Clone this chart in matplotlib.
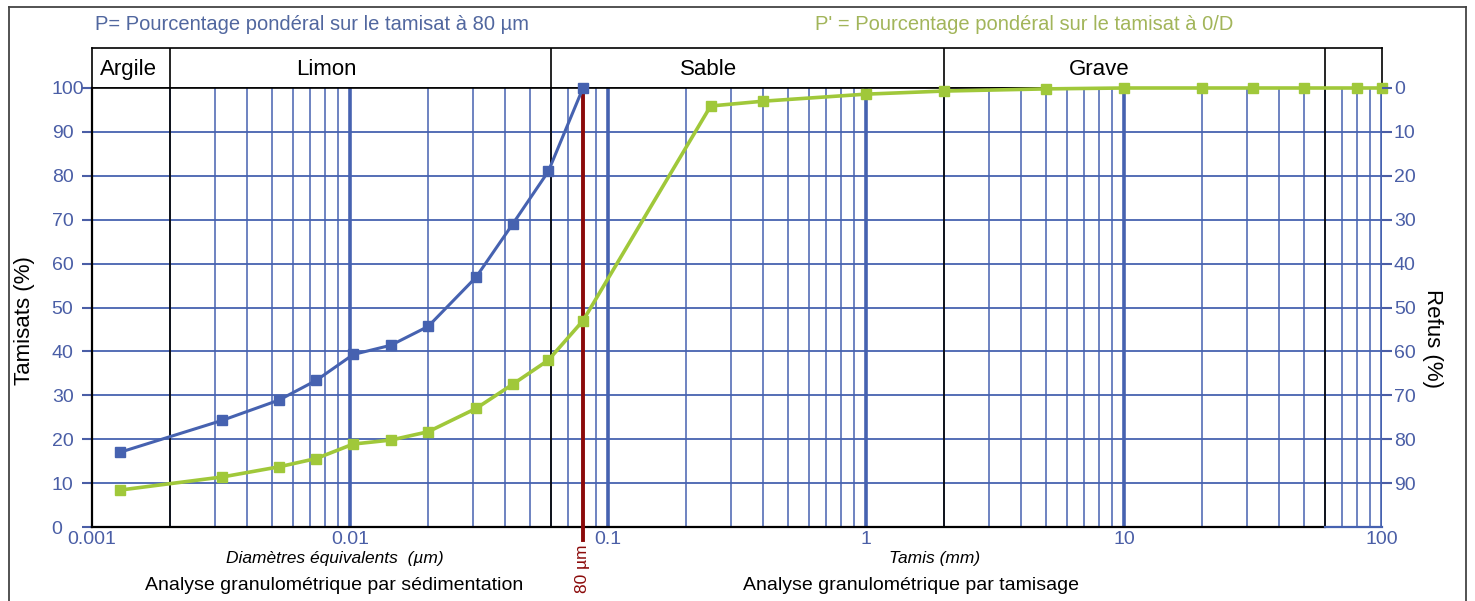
import matplotlib
matplotlib.use("Agg")
import matplotlib.pyplot as plt
from matplotlib.lines import Line2D

plt.rcParams['font.family'] = ['Liberation Sans', 'DejaVu Sans']

# particle size (mm) and passing percentages
d_sed = [0.00128, 0.0032, 0.0053, 0.0074, 0.0103, 0.0144, 0.0201, 0.0308, 0.0427, 0.0587, 0.08]
p_80 = [17.0, 24.3, 28.9, 33.4, 39.3, 41.4, 45.7, 56.9, 69.0, 81.0, 100.0]
p_0d_sed = [8.4, 11.4, 13.7, 15.6, 18.9, 19.8, 21.7, 27.0, 32.5, 38.0, 47.0]
d_sieve = [0.25, 0.4, 1, 2, 5, 10, 20, 31.5, 50, 80, 100]
p_0d_sieve = [95.9, 97.0, 98.6, 99.3, 99.8, 100, 100, 100, 100, 100, 100]

classes = ['Argile', 'Limon', 'Sable', 'Grave']
class_label_x = [0.00139, 0.0081, 0.245, 8.0]
class_limits = [0.002, 0.06, 2, 60]

blue = '#4662b0'
tick_blue = '#4a5ea6'
green = '#a0c83a'
red = '#8b0a0a'

W, H = 1475, 601
fig = plt.figure(figsize=(W / 100, H / 100), dpi=100)

x0, x1 = 92, 1382
y_bot, y_top, y_head = 527, 88, 48
ax = fig.add_axes([x0 / W, 1 - y_bot / H, (x1 - x0) / W, (y_bot - y_top) / H])
ax.set_xscale('log')
ax.set_xlim(0.001, 100)
ax.set_ylim(0, 100)

# grid: horizontal every 10, vertical minor log lines, thick decades
for y in range(10, 100, 10):
    ax.axhline(y, color=blue, lw=1.3, zorder=1)
for dec in [0.001, 0.01, 0.1, 1, 10]:
    for k in range(2, 10):
        ax.axvline(dec * k, color=blue, lw=1.1, zorder=1)
for dec in [0.01, 0.1, 1, 10, 100]:
    ax.axvline(dec, color=blue, lw=2.6, zorder=1)
for lim in class_limits:
    ax.axvline(lim, color='black', lw=1.2, zorder=2)

ax.spines['right'].set_visible(False)
ax.spines['bottom'].set_visible(False)
ax.spines['left'].set_color('black')
ax.spines['left'].set_linewidth(1.6)
ax.spines['top'].set_linewidth(1.2)
ax.plot([0.001, 60], [0, 0], color='black', lw=1.6, clip_on=False, zorder=3)
ax.plot([60, 100], [0, 0], color=blue, lw=1.6, clip_on=False, zorder=3)

# series
ax.plot(d_sed, p_80, color=blue, lw=2.2, marker='s', ms=7, zorder=5, clip_on=False)
ax.plot(d_sed + d_sieve, p_0d_sed + p_0d_sieve, color=green, lw=2.6, marker='s', ms=7,
        zorder=5, clip_on=False)

# 80 µm line
ax.plot([0.08, 0.08], [-3, 100], color=red, lw=2.8, clip_on=False, zorder=4)
ax.text(0.08, -4.0, '80 µm', rotation=90, ha='center', va='top', color=red, fontsize=12.5)

ax.set_yticks(range(0, 101, 10))
ax.tick_params(axis='y', colors=tick_blue, labelsize=14, length=7.5, width=1.5, pad=21.5)
for lab in ax.get_yticklabels():
    lab.set_horizontalalignment('left')
ax.set_xticks([0.001, 0.01, 0.1, 1, 10, 100])
ax.set_xticklabels(['0.001', '0.01', '0.1', '1', '10', '100'])
ax.xaxis.set_minor_locator(matplotlib.ticker.NullLocator())
ax.tick_params(axis='x', colors=tick_blue, labelsize=14, length=0, pad=3)
ax.set_ylabel('Tamisats (%)', fontsize=16, va='center')
ax.yaxis.set_label_coords(-0.052, 0.47)

ax2 = ax.twinx()
ax2.set_ylim(100, 0)
ax2.set_yticks(range(0, 91, 10))
ax2.tick_params(axis='y', colors=tick_blue, labelsize=14, length=7.5, width=1.5, pad=1)
for s in ax2.spines.values():
    s.set_visible(False)
ax2.set_ylabel('Refus (%)', fontsize=16, rotation=270, va='center')
ax2.yaxis.set_label_coords(1.0395, 0.43)

# header band with soil classes, drawn below the curves
hx = fig.add_axes([x0 / W, 1 - y_top / H, (x1 - x0) / W, (y_top - y_head) / H])
hx.set_zorder(-1)
hx.set_xscale('log')
hx.set_xlim(0.001, 100)
hx.set_ylim(0, 1)
hx.set_xticks([])
hx.set_yticks([])
hx.xaxis.set_minor_locator(matplotlib.ticker.NullLocator())
for s in hx.spines.values():
    s.set_linewidth(1.2)
for lim in class_limits:
    hx.axvline(lim, color='black', lw=1.2)
for name, xc in zip(classes, class_label_x):
    hx.text(xc, 0.47, name, ha='center', va='center', fontsize=16)

# titles and footers
fig.text(95 / W, 1 - 25 / H, 'P= Pourcentage pondéral sur le tamisat à 80 µm',
         color='#51679f', fontsize=14.5, va='center', ha='left')
fig.text(815 / W, 1 - 25 / H, "P' = Pourcentage pondéral sur le tamisat à 0/D",
         color='#a2b55a', fontsize=14.5, va='center', ha='left')
fig.text(335 / W, 1 - 558 / H, 'Diamètres équivalents  (µm)', fontsize=12.5,
         style='italic', ha='center', va='center')
fig.text(935 / W, 1 - 558 / H, 'Tamis (mm)', fontsize=12.5, style='italic',
         ha='center', va='center')
fig.text(334 / W, 1 - 586 / H, 'Analyse granulométrique par sédimentation',
         fontsize=14, ha='center', va='center')
fig.text(911 / W, 1 - 586 / H, 'Analyse granulométrique par tamisage',
         fontsize=14, ha='center', va='center')

# outer frame
fig.add_artist(Line2D([9 / W, 1466 / W], [1 - 7 / H, 1 - 7 / H], color='#444444', lw=1.3))
fig.add_artist(Line2D([9 / W, 9 / W], [0, 1 - 7 / H], color='#444444', lw=1.3))
fig.add_artist(Line2D([1466 / W, 1466 / W], [0, 1 - 7 / H], color='#444444', lw=1.3))

fig.savefig('out.png', dpi=100)
